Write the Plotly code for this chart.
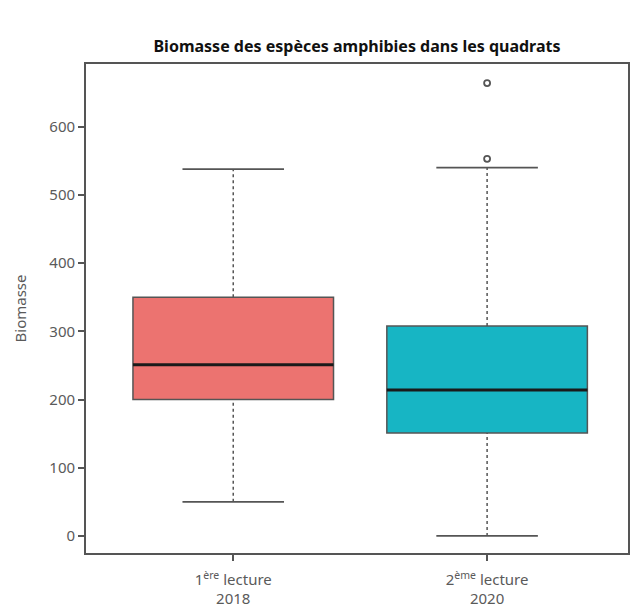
import plotly.graph_objects as go

categories = ["1<sup>ère</sup> lecture<br>2018", "2<sup>ème</sup> lecture<br>2020"]
q1 = [200, 151]
median = [251, 214]
q3 = [350, 308]
lower_whisker = [50, 0]
upper_whisker = [538, 540]
outliers = [[], [553, 664]]
fill_colors = ["#EC7370", "#17B5C4"]
y_ticks = [0, 100, 200, 300, 400, 500, 600]

xs = list(range(len(categories)))
box_half = 0.395
cap_half = 0.2
line_col = "#555555"

fig = go.Figure()

for i in xs:
    # dashed whiskers
    fig.add_trace(go.Scatter(x=[i, i], y=[lower_whisker[i], q1[i]], mode="lines",
                             line=dict(color=line_col, width=1.5, dash="3px,3px"),
                             showlegend=False, hoverinfo="skip"))
    fig.add_trace(go.Scatter(x=[i, i], y=[q3[i], upper_whisker[i]], mode="lines",
                             line=dict(color=line_col, width=1.5, dash="3px,3px"),
                             showlegend=False, hoverinfo="skip"))
    # caps
    for w in (lower_whisker[i], upper_whisker[i]):
        fig.add_trace(go.Scatter(x=[i - cap_half, i + cap_half], y=[w, w], mode="lines",
                                 line=dict(color=line_col, width=1.8),
                                 showlegend=False, hoverinfo="skip"))
    # box
    fig.add_trace(go.Box(x=[i], q1=[q1[i]], median=[median[i]], q3=[q3[i]],
                         lowerfence=[q1[i]], upperfence=[q3[i]],
                         width=2 * box_half, fillcolor=fill_colors[i],
                         line=dict(color=line_col, width=1.5),
                         boxpoints=False, showlegend=False))
    # median
    fig.add_trace(go.Scatter(x=[i - box_half, i + box_half], y=[median[i], median[i]], mode="lines",
                             line=dict(color="#1a1a1a", width=3),
                             showlegend=False, hoverinfo="skip"))
    # outliers
    if outliers[i]:
        fig.add_trace(go.Scatter(x=[i] * len(outliers[i]), y=outliers[i], mode="markers",
                                 marker=dict(symbol="circle-open", size=6, color=line_col,
                                             line=dict(width=1.8)),
                                 showlegend=False))

fig.update_layout(
    width=634, height=609,
    margin=dict(l=86, r=6, t=64, b=56, autoexpand=False),
    paper_bgcolor="white", plot_bgcolor="white",
    font=dict(family="Noto Sans", color="#5a5a5a", size=15),
    title=dict(text="<b>Biomasse des espèces amphibies dans les quadrats</b>",
               x=(86 + 628) / 2 / 634, xanchor="center", y=1 - 46 / 609, yanchor="middle",
               font=dict(size=16, color="#111111", family="Noto Sans")),
    xaxis=dict(range=[-0.58, 1.555], tickvals=xs, ticktext=categories, automargin=False,
               showline=True, mirror=True, linecolor=line_col, linewidth=1.8,
               ticks="outside", ticklen=6, tickcolor=line_col, tickwidth=1.5,
               ticklabelstandoff=6,
               showgrid=False, zeroline=False, tickfont=dict(size=15)),
    yaxis=dict(range=[-25, 692], tickvals=y_ticks, automargin=False,
               showline=True, mirror=True, linecolor=line_col, linewidth=1.8,
               ticks="outside", ticklen=6, tickcolor=line_col, tickwidth=1.5,
               showgrid=False, zeroline=False, tickfont=dict(size=15),
               title=dict(text="Biomasse", font=dict(size=15), standoff=19)),
)

fig.write_html("out.html", config={"displayModeBar": False},
               post_script="document.body.style.margin='0';")
